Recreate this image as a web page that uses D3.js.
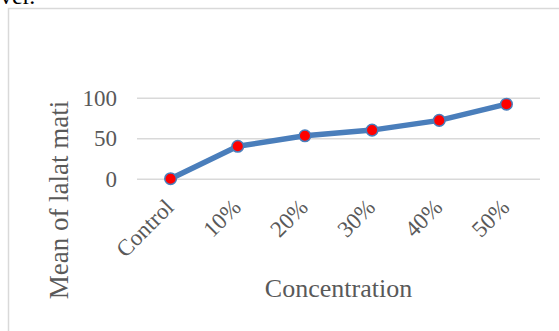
<!DOCTYPE html>
<html>
<head>
<meta charset="utf-8">
<script src="https://cdn.jsdelivr.net/npm/d3@7"></script>
<style>
  html, body { margin: 0; padding: 0; background: #fff; }
  svg { display: block; }
</style>
</head>
<body>
<div id="chart"></div>
<script>
// Mean number of dead flies (lalat mati) for each extract concentration
const categories = ["Control", "10%", "20%", "30%", "40%", "50%"];
const meanValues = [0, 40, 53, 60, 72, 92];
const yTicks = [0, 50, 100];

const W = 559, H = 331;
const svg = d3.select("#chart").append("svg")
  .attr("width", W).attr("height", H);

// tail of the preceding paragraph, cut off by the page edge
svg.append("text")
  .attr("x", 0).attr("y", 4)
  .attr("font-family", "'Liberation Serif', 'Times New Roman', serif")
  .attr("font-size", 24)
  .attr("fill", "#000")
  .text("ver.");

// chart frame (runs past the right and bottom edges)
svg.append("rect")
  .attr("x", 8.5).attr("y", 8.5)
  .attr("width", W + 20).attr("height", H + 20)
  .attr("fill", "none")
  .attr("stroke", "#d9d9d9")
  .attr("stroke-width", 1.5);

const plot = { left: 137, right: 540, top: 97.7, bottom: 178.7 };

const x = d3.scalePoint()
  .domain(categories)
  .range([plot.left, plot.right])
  .padding(0.5);

const y = d3.scaleLinear()
  .domain([0, 100])
  .range([plot.bottom, plot.top]);

const serif = "'Liberation Serif', 'Times New Roman', serif";
const labelColor = "#595959";

// horizontal gridlines + value labels
const yAxis = d3.axisLeft(y)
  .tickValues(yTicks)
  .tickSize(-(plot.right - plot.left))
  .tickPadding(20);

const gy = svg.append("g")
  .attr("transform", `translate(${plot.left},0)`)
  .call(yAxis);
gy.select(".domain").remove();
gy.selectAll(".tick line")
  .attr("stroke", "#d9d9d9")
  .attr("stroke-width", 1.5);
gy.selectAll(".tick text")
  .attr("font-family", serif)
  .attr("font-size", 23)
  .attr("fill", labelColor);

// category labels, slanted
const xAxis = d3.axisBottom(x).tickSize(0).tickPadding(0);
const gx = svg.append("g")
  .attr("transform", `translate(0,${plot.bottom})`)
  .call(xAxis);
gx.select(".domain").remove();
gx.selectAll(".tick text")
  .attr("font-family", serif)
  .attr("font-size", 23)
  .attr("fill", labelColor)
  .attr("text-anchor", "end")
  .attr("dy", 0)
  .attr("transform", "translate(4,30) rotate(-45)");

// series line
const line = d3.line()
  .x((d, i) => x(categories[i]))
  .y(d => y(d));

svg.append("path")
  .datum(meanValues)
  .attr("d", line)
  .attr("fill", "none")
  .attr("stroke", "#4a7ebb")
  .attr("stroke-width", 5.5)
  .attr("stroke-linejoin", "round")
  .attr("stroke-linecap", "round");

// markers
svg.selectAll("circle.pt")
  .data(meanValues)
  .join("circle")
  .attr("class", "pt")
  .attr("cx", (d, i) => x(categories[i]))
  .attr("cy", d => y(d))
  .attr("r", 5.8)
  .attr("fill", "#ff0000")
  .attr("stroke", "#4a7ebb")
  .attr("stroke-width", 1.5);

// axis titles
svg.append("text")
  .attr("x", (plot.left + plot.right) / 2)
  .attr("y", 297)
  .attr("text-anchor", "middle")
  .attr("font-family", serif)
  .attr("font-size", 26)
  .attr("fill", labelColor)
  .text("Concentration");

svg.append("text")
  .attr("transform", "translate(68,200) rotate(-90)")
  .attr("text-anchor", "middle")
  .attr("font-family", serif)
  .attr("font-size", 27)
  .attr("fill", labelColor)
  .text("Mean of lalat mati");
</script>
</body>
</html>
